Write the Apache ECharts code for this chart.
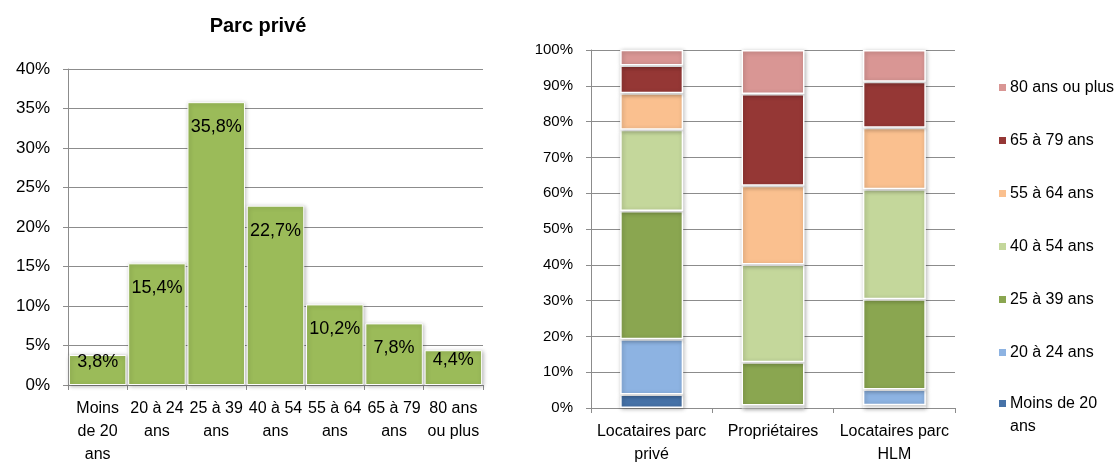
<!DOCTYPE html>
<html>
<head>
<meta charset="utf-8">
<script src="https://cdn.jsdelivr.net/npm/echarts@6/dist/echarts.min.js"></script>
<style>
  html, body { margin: 0; padding: 0; background: #fff; }
  #chart { width: 1117px; height: 466px; }
</style>
</head>
<body>
<div id="chart"></div>
<script>
// Age groups (legend / series names), bottom to top of the stack
const ageGroups = ['Moins de 20 ans', '20 à 24 ans', '25 à 39 ans', '40 à 54 ans', '55 à 64 ans', '65 à 79 ans', '80 ans ou plus'];
// Tick labels of the left histogram
const ageTickLabels = ['Moins\nde 20\nans', '20 à 24\nans', '25 à 39\nans', '40 à 54\nans', '55 à 64\nans', '65 à 79\nans', '80 ans\nou plus'];
// Left chart: Parc privé, % per age group
const parcPrive = [3.8, 15.4, 35.8, 22.7, 10.2, 7.8, 4.4];

// Right chart categories
const statusLabels = ['Locataires parc\nprivé', 'Propriétaires', 'Locataires parc\nHLM'];
// Right chart: share of each age group, per status
const locatairesPrive = [3.8, 15.4, 35.8, 22.7, 10.2, 7.8, 4.4];
const proprietaires = [0.1, 0.6, 12.1, 27.3, 22.0, 25.6, 12.3];
const locatairesHlm = [0.8, 4.4, 25.2, 30.7, 17.2, 12.8, 8.9];

const ageColors = ['#4672A8', '#8DB3E2', '#8AA650', '#C4D79B', '#FAC08F', '#953735', '#D99694'];

const FONT = '"Liberation Sans", Arial, sans-serif';
const GRID_LINE = '#8c8c8c';
const fmtPct = (v) => String(v).replace('.', ',') + '%';

const chart = echarts.init(document.getElementById('chart'), null, { renderer: 'canvas' });

const barShadow = {
    shadowColor: 'rgba(0,0,0,0.28)',
    shadowBlur: 4,
    shadowOffsetX: 1,
    shadowOffsetY: 1,
};

const axisCommon = {
    axisLine: { show: true, lineStyle: { color: GRID_LINE, width: 1 } },
    axisTick: { show: true, length: 5, lineStyle: { color: GRID_LINE } },
};

const legendBase = {
    orient: 'vertical',
    left: 992,
    itemWidth: 9,
    itemHeight: 9,
    itemGap: 30,
    icon: 'rect',
    textStyle: { fontFamily: FONT, fontSize: 16, color: '#000', lineHeight: 23, padding: [0, 0, 0, -2] },
};

// legend top-to-bottom; the wrapped last entry gets its own block so its
// square sits on the first text line (square at the top of a taller icon box)
const legendNames = ageGroups.slice().reverse();

const option = {
    backgroundColor: '#fff',
    animation: false,
    textStyle: { fontFamily: FONT },
    title: {
        text: 'Parc privé',
        left: 253,
        top: 11,
        textAlign: 'center',
        textStyle: { fontFamily: FONT, fontSize: 20, fontWeight: 'bold', color: '#000' },
    },
    legend: [
        {
            ...legendBase,
            top: 71,
            data: legendNames.slice(0, 6),
        },
        {
            ...legendBase,
            top: 387,
            itemHeight: 32,
            icon: 'path://M0,0H9V9H0Z M0,32L0.01,32',
            data: legendNames.slice(6),
            formatter: () => 'Moins de 20\nans',
        },
    ],
    grid: [
        { left: 68, top: 69, width: 415, height: 321 },
        { left: 591, top: 50, width: 364, height: 358 },
    ],
    xAxis: [
        {
            gridIndex: 0,
            type: 'category',
            data: ageTickLabels,
            ...axisCommon,
            axisLabel: { interval: 0, margin: 12, color: '#000', fontSize: 16, lineHeight: 23, fontFamily: FONT },
        },
        {
            gridIndex: 1,
            type: 'category',
            data: statusLabels,
            ...axisCommon,
            axisLabel: { interval: 0, margin: 12, color: '#000', fontSize: 16, lineHeight: 23, fontFamily: FONT },
        },
    ],
    yAxis: [
        {
            gridIndex: 0,
            type: 'value',
            min: 0,
            max: 40,
            interval: 5,
            ...axisCommon,
            axisLabel: { formatter: '{value}%', margin: 18, color: '#000', fontSize: 17, fontFamily: FONT },
            splitLine: { show: true, lineStyle: { color: GRID_LINE, width: 1 } },
        },
        {
            gridIndex: 1,
            type: 'value',
            min: 0,
            max: 100,
            interval: 10,
            ...axisCommon,
            axisLabel: { formatter: '{value}%', margin: 18, color: '#000', fontSize: 15, fontFamily: FONT },
            splitLine: { show: true, lineStyle: { color: GRID_LINE, width: 1 } },
        },
    ],
    series: [
        {
            name: 'Parc privé',
            type: 'bar',
            xAxisIndex: 0,
            yAxisIndex: 0,
            barCategoryGap: '3%',
            data: parcPrive.map((v) => ({
                value: v,
                label: v < 5
                    ? { position: 'inside', offset: [0, -8] }
                    : { position: 'insideTop', distance: 16 },
            })),
            itemStyle: { color: '#9BBB59', borderColor: '#fff', borderWidth: 1, ...barShadow },
            label: {
                show: true,
                color: '#000',
                fontSize: 18,
                fontFamily: FONT,
                formatter: (p) => fmtPct(p.value),
            },
        },
        ...ageGroups.map((name, i) => ({
            name: name,
            type: 'bar',
            stack: 'statut',
            xAxisIndex: 1,
            yAxisIndex: 1,
            barWidth: 63,
            data: [locatairesPrive[i], proprietaires[i], locatairesHlm[i]],
            itemStyle: { color: ageColors[i], borderColor: '#fff', borderWidth: 1.5, ...barShadow },
        })),
    ],
};

chart.setOption(option);
</script>
</body>
</html>
